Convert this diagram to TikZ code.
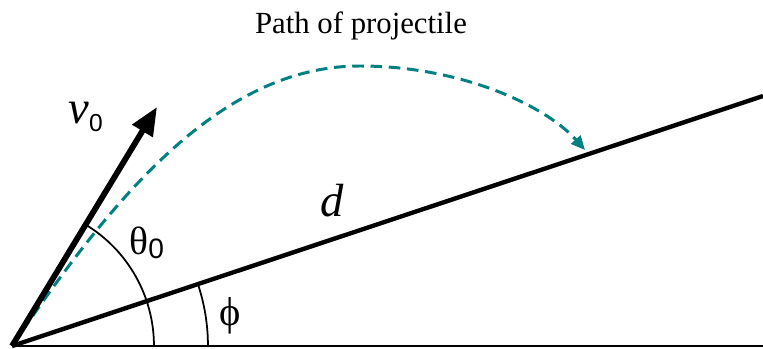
\documentclass[tikz,border=0pt]{standalone}
\usepackage{fontspec}
\setmainfont{Liberation Serif}
\newfontfamily\subfont{Liberation Sans}
\usepackage{tikz}
\usetikzlibrary{arrows.meta,positioning,calc}
\colorlet{pathteal}{teal}

\tikzset{
  ground/.style={line width=1.3pt},
  incline/.style={line width=2.5pt},
  velocity/.style={line width=3.3pt, -{Triangle[length=16pt,width=13pt]}},
  trajectory/.style={pathteal, line width=1.7pt, dash pattern=on 6.6pt off 3.8pt,
    -{Triangle[length=8pt,width=7pt]}},
  anglearc/.style={line width=1pt},
  biglabel/.style={font=\fontsize{24}{24}\selectfont, inner sep=0pt}
}

\begin{document}
\begin{tikzpicture}[x=0.02cm, y=0.02cm]
        \useasboundingbox (0,0) rectangle (763,348);
        % launch point and lines
        \coordinate (O) at (12,2);
        \coordinate (G) at (763,2);
        \coordinate (I) at (763,252);
        \coordinate (V) at (157,241);
        \coordinate (A) at (360,282);
        \coordinate (L) at (585,198);
        \draw[ground] (O) -- (G);
        \draw[incline] (O) -- (I);
        % angles
        \draw[anglearc] ($(O)+(2.84cm,0)$) arc[start angle=0, end angle=58.75, radius=2.84cm];
        \draw[anglearc] ($(O)+(3.92cm,0)$) arc[start angle=0, end angle=18.41, radius=3.92cm];
        % path of projectile
        \draw[trajectory] (O) .. controls (113,151) and (220,282) .. (A)
                              .. controls (460,282) and (545,243) .. (L);
        \draw[velocity] (O) -- (V);
        % labels
        \node[anchor=base, font=\fontsize{17.5}{17.5}\selectfont] (title) at (361,314) {Path of projectile};
        \node[biglabel, anchor=base west] (vlabel) at (68,224) {\fontsize{26.5}{26.5}\selectfont\itshape v\/\raisebox{-4.5pt}{\upshape\subfont\fontsize{14}{14}\selectfont 0}};
        \node[biglabel, anchor=base] (dlabel) at (332,131) {\fontsize{26.5}{26.5}\selectfont\itshape d};
        \node[biglabel, anchor=base west] (thlabel) at (129,93) {\fontsize{22.5}{22.5}\selectfont θ\raisebox{-2pt}{\subfont\fontsize{16}{16}\selectfont 0}};
        \node[biglabel] (philabel) at (230,32) {\fontsize{23}{23}\selectfont ϕ};
    \end{tikzpicture}
\end{document}
